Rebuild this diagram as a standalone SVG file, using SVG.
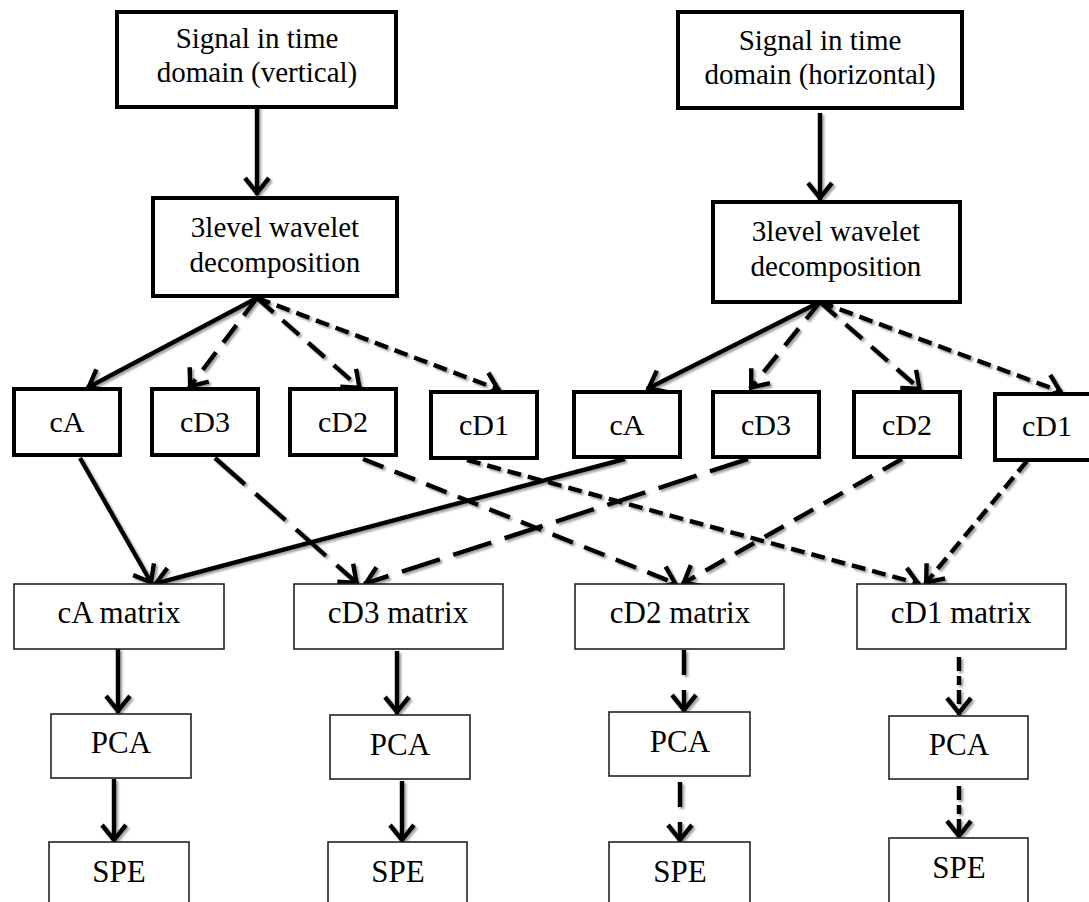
<svg xmlns="http://www.w3.org/2000/svg" width="1089" height="902" viewBox="0 0 1089 902">
<style>
.bx{fill:#fff;stroke:#000;stroke-width:4}
.tb{fill:#fff;stroke:#222;stroke-width:1.6}
.t{font-family:"Liberation Serif","Times New Roman",serif;font-size:29px;fill:#000;text-anchor:middle}
.t30{font-family:"Liberation Serif","Times New Roman",serif;font-size:30px;fill:#000;text-anchor:middle}
.t31{font-family:"Liberation Serif","Times New Roman",serif;font-size:31px;fill:#000;text-anchor:middle}
.c{fill:none;stroke:#000;stroke-width:4.5;marker-end:url(#ah)}
.long{stroke-dasharray:40 14}
.mid{stroke-dasharray:22 12}
.sh{stroke-dasharray:14 7}
.v2{stroke-dasharray:25 15}
.v1{stroke-dasharray:14 5 9 5}
</style>
<defs>
<marker id="ah" viewBox="-22 -16 28 32" markerWidth="28" markerHeight="32" refX="0" refY="0" orient="auto" markerUnits="userSpaceOnUse">
<path d="M-17,-12 L-2,0 L-17,12" fill="none" stroke="#000" stroke-width="4.5"/>
</marker>
<filter id="ds" x="-5%" y="-5%" width="110%" height="110%">
<feDropShadow dx="2" dy="2" stdDeviation="1" flood-color="#777" flood-opacity="0.7"/>
</filter>
</defs>
<g id="connectors" filter="url(#ds)">
<path class="c" d="M257,107 L257,195"/>
<path class="c" d="M820,113 L820,200"/>
<path class="c" d="M257,298 L87,388"/>
<path class="c mid" d="M257,298 L189,388"/>
<path class="c mid" d="M257,298 L361,389"/>
<path class="c sh" d="M257,298 L500,390"/>
<path class="c" d="M820,302 L647,389"/>
<path class="c mid" d="M820,302 L750,389"/>
<path class="c mid" d="M820,302 L921,390"/>
<path class="c sh" d="M820,302 L1062,392"/>
<path class="c" d="M80,458 L152,584"/>
<path class="c long" d="M215,458 L358,584"/>
<path class="c mid" d="M363,459 L677,584"/>
<path class="c sh" d="M467,460 L920,584"/>
<path class="c" d="M625,459 L154,584"/>
<path class="c long" d="M748,459 L364,584"/>
<path class="c mid" d="M902,459 L682,584"/>
<path class="c sh" d="M1027,461 L925,584"/>
<path class="c" d="M118,649 L118,713"/>
<path class="c" d="M397,651 L397,714"/>
<path class="c v2" d="M684,650 L684,712"/>
<path class="c v1" d="M959,657 L959,715"/>
<path class="c" d="M114,779 L114,842"/>
<path class="c" d="M402,781 L402,842"/>
<path class="c v2" d="M680,782 L680,842"/>
<path class="c v1" d="M959,786 L959,838"/>
</g>
<g id="sig-v"><rect class="bx" x="117" y="12" width="279" height="95"/><text class="t" x="257" y="48">Signal in time</text><text class="t" x="257" y="82">domain (vertical)</text></g>
<g id="sig-h"><rect class="bx" x="678" y="12" width="284" height="96"/><text class="t" x="820" y="50">Signal in time</text><text class="t" x="820" y="84">domain (horizontal)</text></g>
<g id="wd-v"><rect class="bx" x="153" y="198" width="244" height="98"/><text class="t" x="275" y="237">3level wavelet</text><text class="t" x="275" y="272">decomposition</text></g>
<g id="wd-h"><rect class="bx" x="713" y="202" width="247" height="100"/><text class="t" x="836" y="241">3level wavelet</text><text class="t" x="836" y="276">decomposition</text></g>
<g id="ca-v"><rect class="bx" x="14" y="389" width="106" height="66"/><text class="t30" x="67" y="432">cA</text></g>
<g id="cd3-v"><rect class="bx" x="152" y="389" width="106" height="66"/><text class="t30" x="205" y="432">cD3</text></g>
<g id="cd2-v"><rect class="bx" x="290" y="389" width="106" height="66"/><text class="t30" x="343" y="432">cD2</text></g>
<g id="cd1-v"><rect class="bx" x="431" y="392" width="106" height="66"/><text class="t30" x="484" y="435">cD1</text></g>
<g id="ca-h"><rect class="bx" x="574" y="392" width="106" height="65"/><text class="t30" x="627" y="435">cA</text></g>
<g id="cd3-h"><rect class="bx" x="713" y="392" width="106" height="65"/><text class="t30" x="766" y="435">cD3</text></g>
<g id="cd2-h"><rect class="bx" x="854" y="392" width="106" height="65"/><text class="t30" x="907" y="435">cD2</text></g>
<g id="cd1-h"><rect class="bx" x="995" y="394" width="110" height="66"/><text class="t30" x="1047" y="436">cD1</text></g>
<g id="ca-m"><rect class="tb" x="14" y="584" width="210" height="65"/><text class="t31" x="119" y="623">cA matrix</text></g>
<g id="cd3-m"><rect class="tb" x="294" y="584" width="209" height="65"/><text class="t31" x="398" y="623">cD3 matrix</text></g>
<g id="cd2-m"><rect class="tb" x="575" y="584" width="209" height="65"/><text class="t31" x="680" y="623">cD2 matrix</text></g>
<g id="cd1-m"><rect class="tb" x="857" y="584" width="209" height="65"/><text class="t31" x="961" y="623">cD1 matrix</text></g>
<g id="pca-a"><rect class="tb" x="51" y="714" width="140" height="64"/><text class="t31" x="121" y="753">PCA</text></g>
<g id="pca-3"><rect class="tb" x="330" y="715" width="140" height="64"/><text class="t31" x="400" y="755">PCA</text></g>
<g id="pca-2"><rect class="tb" x="609" y="712" width="141" height="64"/><text class="t31" x="680" y="752">PCA</text></g>
<g id="pca-1"><rect class="tb" x="889" y="716" width="139" height="63"/><text class="t31" x="959" y="755">PCA</text></g>
<g id="spe-a"><rect class="tb" x="49" y="842" width="140" height="66"/><text class="t31" x="119" y="882">SPE</text></g>
<g id="spe-3"><rect class="tb" x="328" y="842" width="139" height="66"/><text class="t31" x="398" y="882">SPE</text></g>
<g id="spe-2"><rect class="tb" x="609" y="842" width="141" height="66"/><text class="t31" x="680" y="882">SPE</text></g>
<g id="spe-1"><rect class="tb" x="889" y="838" width="139" height="70"/><text class="t31" x="959" y="878">SPE</text></g>
</svg>
